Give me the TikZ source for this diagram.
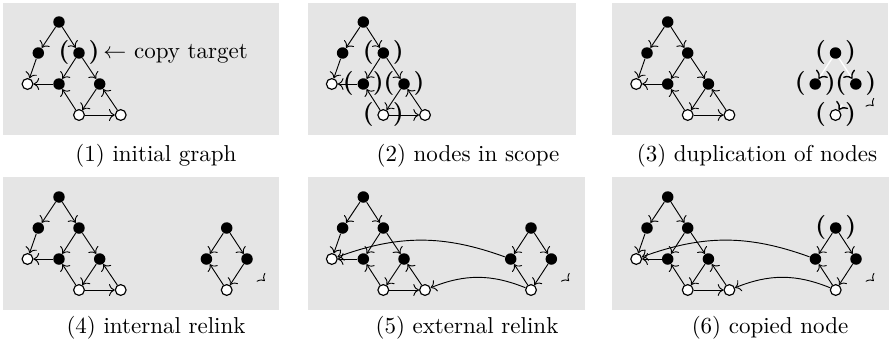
\documentclass[tikz,border=0pt]{standalone}
\usetikzlibrary{arrows.meta,calc}
\newcommand\basegraph[3]{%
  \begin{scope}[shift={(#2,#3)}]
    \node[bn] (#1T)  at (59,22) {};
    \node[bn] (#1L)  at (38.3,53) {};
    \node[bn] (#1M)  at (79,53) {};
    \node[wn] (#1BL) at (27.5,84) {};
    \node[bn] (#1ML) at (59,84) {};
    \node[bn] (#1MR) at (99.7,84) {};
    \node[wn] (#1B)  at (79,115) {};
    \node[wn] (#1BR) at (120.7,115) {};
  \end{scope}
  \draw[ed] (#1T) -- (#1L);
  \draw[ed] (#1T) -- (#1M);
  \draw[ed] (#1L) -- (#1BL);
  \draw[ed] (#1M) -- (#1ML);
  \draw[ed] (#1M) -- (#1MR);
  \draw[ed] (#1ML) -- (#1BL);
  \draw[ed] (#1B) -- (#1ML);
  \draw[ed] (#1MR) -- (#1B);
  \draw[ed] (#1B) -- (#1BR);
  \draw[ed] (#1BR) -- (#1MR);
}
\newcommand\copynodes[3]{%
  \begin{scope}[shift={(#2,#3)}]
    \node[bn] (#1cT) at (0,0) {};
    \node[bn] (#1cL) at (-20.3,31) {};
    \node[bn] (#1cR) at (20.3,31) {};
    \node[wn] (#1cB) at (0,62) {};
    \coordinate (#1k) at (38,53);
    \coordinate (#1k0) at (37,52);
  \end{scope}
  \draw[ed] (#1k0) -- (#1k);
}
\newcommand\copyedges[1]{%
  \draw[ed] (#1cT) -- (#1cL);
  \draw[ed] (#1cT) -- (#1cR);
  \draw[ed] (#1cB) -- (#1cL);
  \draw[ed] (#1cR) -- (#1cB);
}
\newcommand\parens[1]{%
  \node[partxt] (#1pl) at ($(#1)+(-15,-1)$) {(};
  \node[partxt] (#1pr) at ($(#1)+(15,-1)$) {)};
}
\begin{document}
\begin{tikzpicture}[x=0.435pt,y=-0.435pt,
  bn/.style={circle,fill=black,inner sep=0pt,minimum size=5pt},
  wn/.style={circle,draw=black,fill=white,inner sep=0pt,minimum size=4.7pt,line width=0.5pt},
  ed/.style={-{Computer Modern Rightarrow},line width=0.4pt},
  wed/.style={draw=white,line width=0.6pt,-{Computer Modern Rightarrow[color=black]}},
  partxt/.style={inner sep=0pt,font=\bfseries\fontsize{10.5}{12}\selectfont},
  captxt/.style={anchor=base,inner sep=0pt},
  panel/.style={fill=black!10}]
\useasboundingbox (0,0) rectangle (894,344);
% panels
\fill[panel] (3,3) rectangle (279,135);
\fill[panel] (308,3) rectangle (576,135);
\fill[panel] (612,3) rectangle (888,135);
\fill[panel] (3,177) rectangle (279,310);
\fill[panel] (308,177) rectangle (585,310);
\fill[panel] (612,177) rectangle (889,310);
% (1)
\basegraph{a}{0}{0}
\parens{aM}
\node[anchor=base west,inner sep=0pt] (lbl) at (103,58.5) {$\leftarrow$ copy target};
\node[captxt] (c1) at (156,161) {(1) initial graph};
% (2)
\basegraph{b}{304.3}{0}
\parens{bM}\parens{bML}\parens{bMR}\parens{bB}
\node[captxt] (c2) at (468,161) {(2) nodes in scope};
% (3)
\basegraph{c}{608.7}{0}
\copynodes{c}{835.5}{53}
\draw[wed] (ccT) -- (ccL);
\draw[wed] (ccT) -- (ccR);
\draw[wed,shorten <=8pt] (ccR) -- (ccB);
\parens{ccT}\parens{ccL}\parens{ccR}\parens{ccB}
\node[captxt] (c3) at (757,161) {(3) duplication of nodes};
% (4)
\basegraph{d}{0}{175}
\copynodes{d}{226.7}{228}
\copyedges{d}
\node[captxt] (c4) at (156,333) {(4) internal relink};
% (5)
\basegraph{e}{304.3}{175}
\copynodes{e}{531}{228}
\copyedges{e}
\draw[ed] (ecL) to[bend right=20] (eBL);
\draw[ed] (ecB) to[bend right=22] (eBR);
\node[captxt] (c5) at (467,333) {(5) external relink};
% (6)
\basegraph{f}{608.7}{175}
\copynodes{f}{835.7}{228}
\copyedges{f}
\draw[ed] (fcL) to[bend right=20] (fBL);
\draw[ed] (fcB) to[bend right=22] (fBR);
\parens{fcT}
\node[captxt] (c6) at (770,333) {(6) copied node};
\end{tikzpicture}
\end{document}
